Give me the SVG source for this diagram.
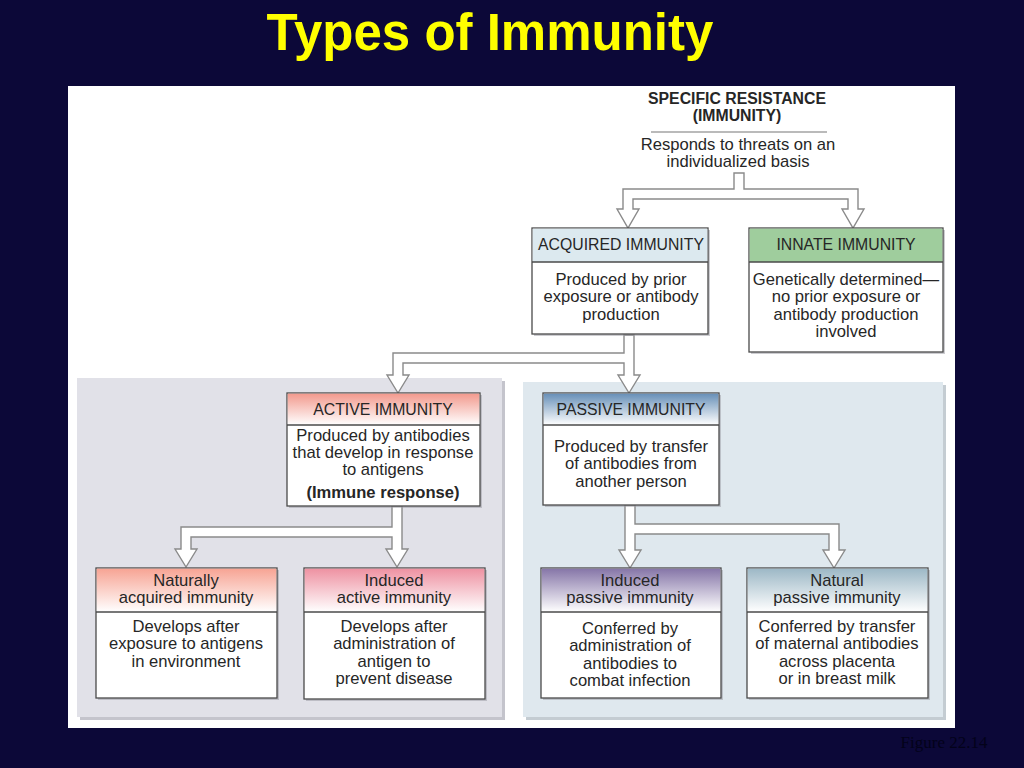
<svg xmlns="http://www.w3.org/2000/svg" width="1024" height="768" viewBox="0 0 1024 768">
<style>
.t{font-family:"Liberation Sans",Arial,sans-serif;fill:#262626;text-anchor:middle}
.h{font-size:15.8px}
.b{font-size:16.6px}
.bold{font-weight:bold}
.box{fill:#fff;stroke:#4a4a4a;stroke-width:1.3}
.div{stroke:#4a4a4a;stroke-width:1.3}
.sh{fill:#9a9aa2;opacity:0.5}
.con{fill:#fff;stroke:#8a8a8a;stroke-width:1.4;stroke-linejoin:miter}
</style>
<defs>
<linearGradient id="gRed" x1="0" y1="0" x2="0" y2="1"><stop offset="0" stop-color="#f29a8e"/><stop offset="1" stop-color="#fff"/></linearGradient>
<linearGradient id="gSalmon" x1="0" y1="0" x2="0" y2="1"><stop offset="0" stop-color="#f7a494"/><stop offset="1" stop-color="#fff"/></linearGradient>
<linearGradient id="gPink" x1="0" y1="0" x2="0" y2="1"><stop offset="0" stop-color="#ee92a2"/><stop offset="1" stop-color="#fff"/></linearGradient>
<linearGradient id="gBlue" x1="0" y1="0" x2="0" y2="1"><stop offset="0" stop-color="#6890b8"/><stop offset="1" stop-color="#fff"/></linearGradient>
<linearGradient id="gPurple" x1="0" y1="0" x2="0" y2="1"><stop offset="0" stop-color="#8676a8"/><stop offset="1" stop-color="#fff"/></linearGradient>
<linearGradient id="gGray" x1="0" y1="0" x2="0" y2="1"><stop offset="0" stop-color="#9db8c6"/><stop offset="1" stop-color="#fff"/></linearGradient>
</defs>
<rect width="1024" height="768" fill="#0c0838"/>
<text x="490" y="50" font-family="'Liberation Sans',Arial,sans-serif" font-size="51" font-weight="bold" fill="#ffff00" text-anchor="middle">Types of Immunity</text>
<rect x="68" y="86" width="887" height="642" fill="#fff"/>
<text x="944" y="748" font-family="'Liberation Serif','Times New Roman',serif" font-size="17" fill="#03021a" text-anchor="middle">Figure 22.14</text>

<g id="panel-active">
<rect x="80" y="381" width="425" height="339" fill="#c4c4cc"/>
<rect x="77" y="378" width="425" height="339" fill="#e1e1e8"/>
</g>
<g id="panel-passive">
<rect x="526" y="385" width="420" height="335" fill="#c4ccd2"/>
<rect x="523" y="382" width="420" height="335" fill="#dfe8ee"/>
</g>

<g id="connectors">
<path class="con" d="M734,173 H744 V189 H858 V209 H864 L853,228 L842,209 H848 V199 H633 V209 H639 L628,228 L617,209 H623 V189 H734 Z"/>
<path class="con" d="M624,335 H634 V375 H640 L629,393 L618,375 H624 V363 H403 V375 H409 L398,393 L387,375 H393 V353 H624 Z"/>
<path class="con" d="M392,506 H402 V549 H408 L397,567 L386,549 H392 V537 H191 V549 H197 L186,567 L175,549 H181 V527 H392 Z"/>
<path class="con" d="M625,505 H635 V524 H839 V550 H845 L834,568 L823,550 H829 V534 H635 V550 H641 L630,568 L619,550 H625 Z"/>
</g>

<g id="specific">
<text class="t bold" x="737" y="104" font-size="15.8">SPECIFIC RESISTANCE</text>
<text class="t bold" x="737" y="121" font-size="15.8">(IMMUNITY)</text>
<line x1="651" y1="132" x2="827" y2="132" stroke="#777" stroke-width="1.2"/>
<text class="t b" x="738" y="150">Responds to threats on an</text>
<text class="t b" x="738" y="167">individualized basis</text>
</g>

<g id="acquired">
<rect class="sh" x="534" y="230" width="176" height="106"/>
<rect class="box" x="532" y="228" width="176" height="106"/>
<rect x="532.7" y="228.7" width="174.6" height="33.3" fill="#dce9ef"/>
<line class="div" x1="532" y1="262" x2="708" y2="262"/>
<text class="t h" x="621" y="250">ACQUIRED IMMUNITY</text>
<text class="t b" x="621" y="285">Produced by prior</text>
<text class="t b" x="621" y="302">exposure or antibody</text>
<text class="t b" x="621" y="320">production</text>
</g>

<g id="innate">
<rect class="sh" x="751" y="230" width="194" height="124"/>
<rect class="box" x="749" y="228" width="194" height="124"/>
<rect x="749.7" y="228.7" width="192.6" height="33.3" fill="#9fcd9d"/>
<line class="div" x1="749" y1="262" x2="943" y2="262"/>
<text class="t h" x="846" y="250">INNATE IMMUNITY</text>
<text class="t b" x="846" y="285">Genetically determined—</text>
<text class="t b" x="846" y="302">no prior exposure or</text>
<text class="t b" x="846" y="320">antibody production</text>
<text class="t b" x="846" y="337">involved</text>
</g>

<g id="active">
<rect class="sh" x="289" y="395" width="193" height="113"/>
<rect class="box" x="287" y="393" width="193" height="113"/>
<rect x="287.7" y="393.7" width="191.6" height="31.3" fill="url(#gRed)"/>
<line class="div" x1="287" y1="425" x2="480" y2="425"/>
<text class="t h" x="383" y="415">ACTIVE IMMUNITY</text>
<text class="t b" x="383" y="441">Produced by antibodies</text>
<text class="t b" x="383" y="458">that develop in response</text>
<text class="t b" x="383" y="475">to antigens</text>
<text class="t b bold" x="383" y="498" font-size="15.5">(Immune response)</text>
</g>

<g id="passive">
<rect class="sh" x="545" y="395" width="176" height="112"/>
<rect class="box" x="543" y="393" width="176" height="112"/>
<rect x="543.7" y="393.7" width="174.6" height="31.3" fill="url(#gBlue)"/>
<line class="div" x1="543" y1="425" x2="719" y2="425"/>
<text class="t h" x="631" y="415">PASSIVE IMMUNITY</text>
<text class="t b" x="631" y="452">Produced by transfer</text>
<text class="t b" x="631" y="469">of antibodies from</text>
<text class="t b" x="631" y="487">another person</text>
</g>

<g id="naturally-acquired">
<rect class="sh" x="98" y="570" width="181" height="130"/>
<rect class="box" x="96" y="568" width="181" height="130"/>
<rect x="96.7" y="568.7" width="179.6" height="43.3" fill="url(#gSalmon)"/>
<line class="div" x1="96" y1="612" x2="277" y2="612"/>
<text class="t b" x="186" y="586">Naturally</text>
<text class="t b" x="186" y="603">acquired immunity</text>
<text class="t b" x="186" y="632">Develops after</text>
<text class="t b" x="186" y="649">exposure to antigens</text>
<text class="t b" x="186" y="667">in environment</text>
</g>

<g id="induced-active">
<rect class="sh" x="306" y="570" width="181" height="131"/>
<rect class="box" x="304" y="568" width="181" height="131"/>
<rect x="304.7" y="568.7" width="179.6" height="43.3" fill="url(#gPink)"/>
<line class="div" x1="304" y1="612" x2="485" y2="612"/>
<text class="t b" x="394" y="586">Induced</text>
<text class="t b" x="394" y="603">active immunity</text>
<text class="t b" x="394" y="632">Develops after</text>
<text class="t b" x="394" y="649">administration of</text>
<text class="t b" x="394" y="667">antigen to</text>
<text class="t b" x="394" y="684">prevent disease</text>
</g>

<g id="induced-passive">
<rect class="sh" x="543" y="570" width="180" height="130"/>
<rect class="box" x="541" y="568" width="180" height="130"/>
<rect x="541.7" y="568.7" width="178.6" height="43.3" fill="url(#gPurple)"/>
<line class="div" x1="541" y1="612" x2="721" y2="612"/>
<text class="t b" x="630" y="586">Induced</text>
<text class="t b" x="630" y="603">passive immunity</text>
<text class="t b" x="630" y="634">Conferred by</text>
<text class="t b" x="630" y="651">administration of</text>
<text class="t b" x="630" y="669">antibodies to</text>
<text class="t b" x="630" y="686">combat infection</text>
</g>

<g id="natural-passive">
<rect class="sh" x="749" y="570" width="181" height="130"/>
<rect class="box" x="747" y="568" width="181" height="130"/>
<rect x="747.7" y="568.7" width="179.6" height="43.3" fill="url(#gGray)"/>
<line class="div" x1="747" y1="612" x2="928" y2="612"/>
<text class="t b" x="837" y="586">Natural</text>
<text class="t b" x="837" y="603">passive immunity</text>
<text class="t b" x="837" y="632">Conferred by transfer</text>
<text class="t b" x="837" y="649">of maternal antibodies</text>
<text class="t b" x="837" y="667">across placenta</text>
<text class="t b" x="837" y="684">or in breast milk</text>
</g>
</svg>
